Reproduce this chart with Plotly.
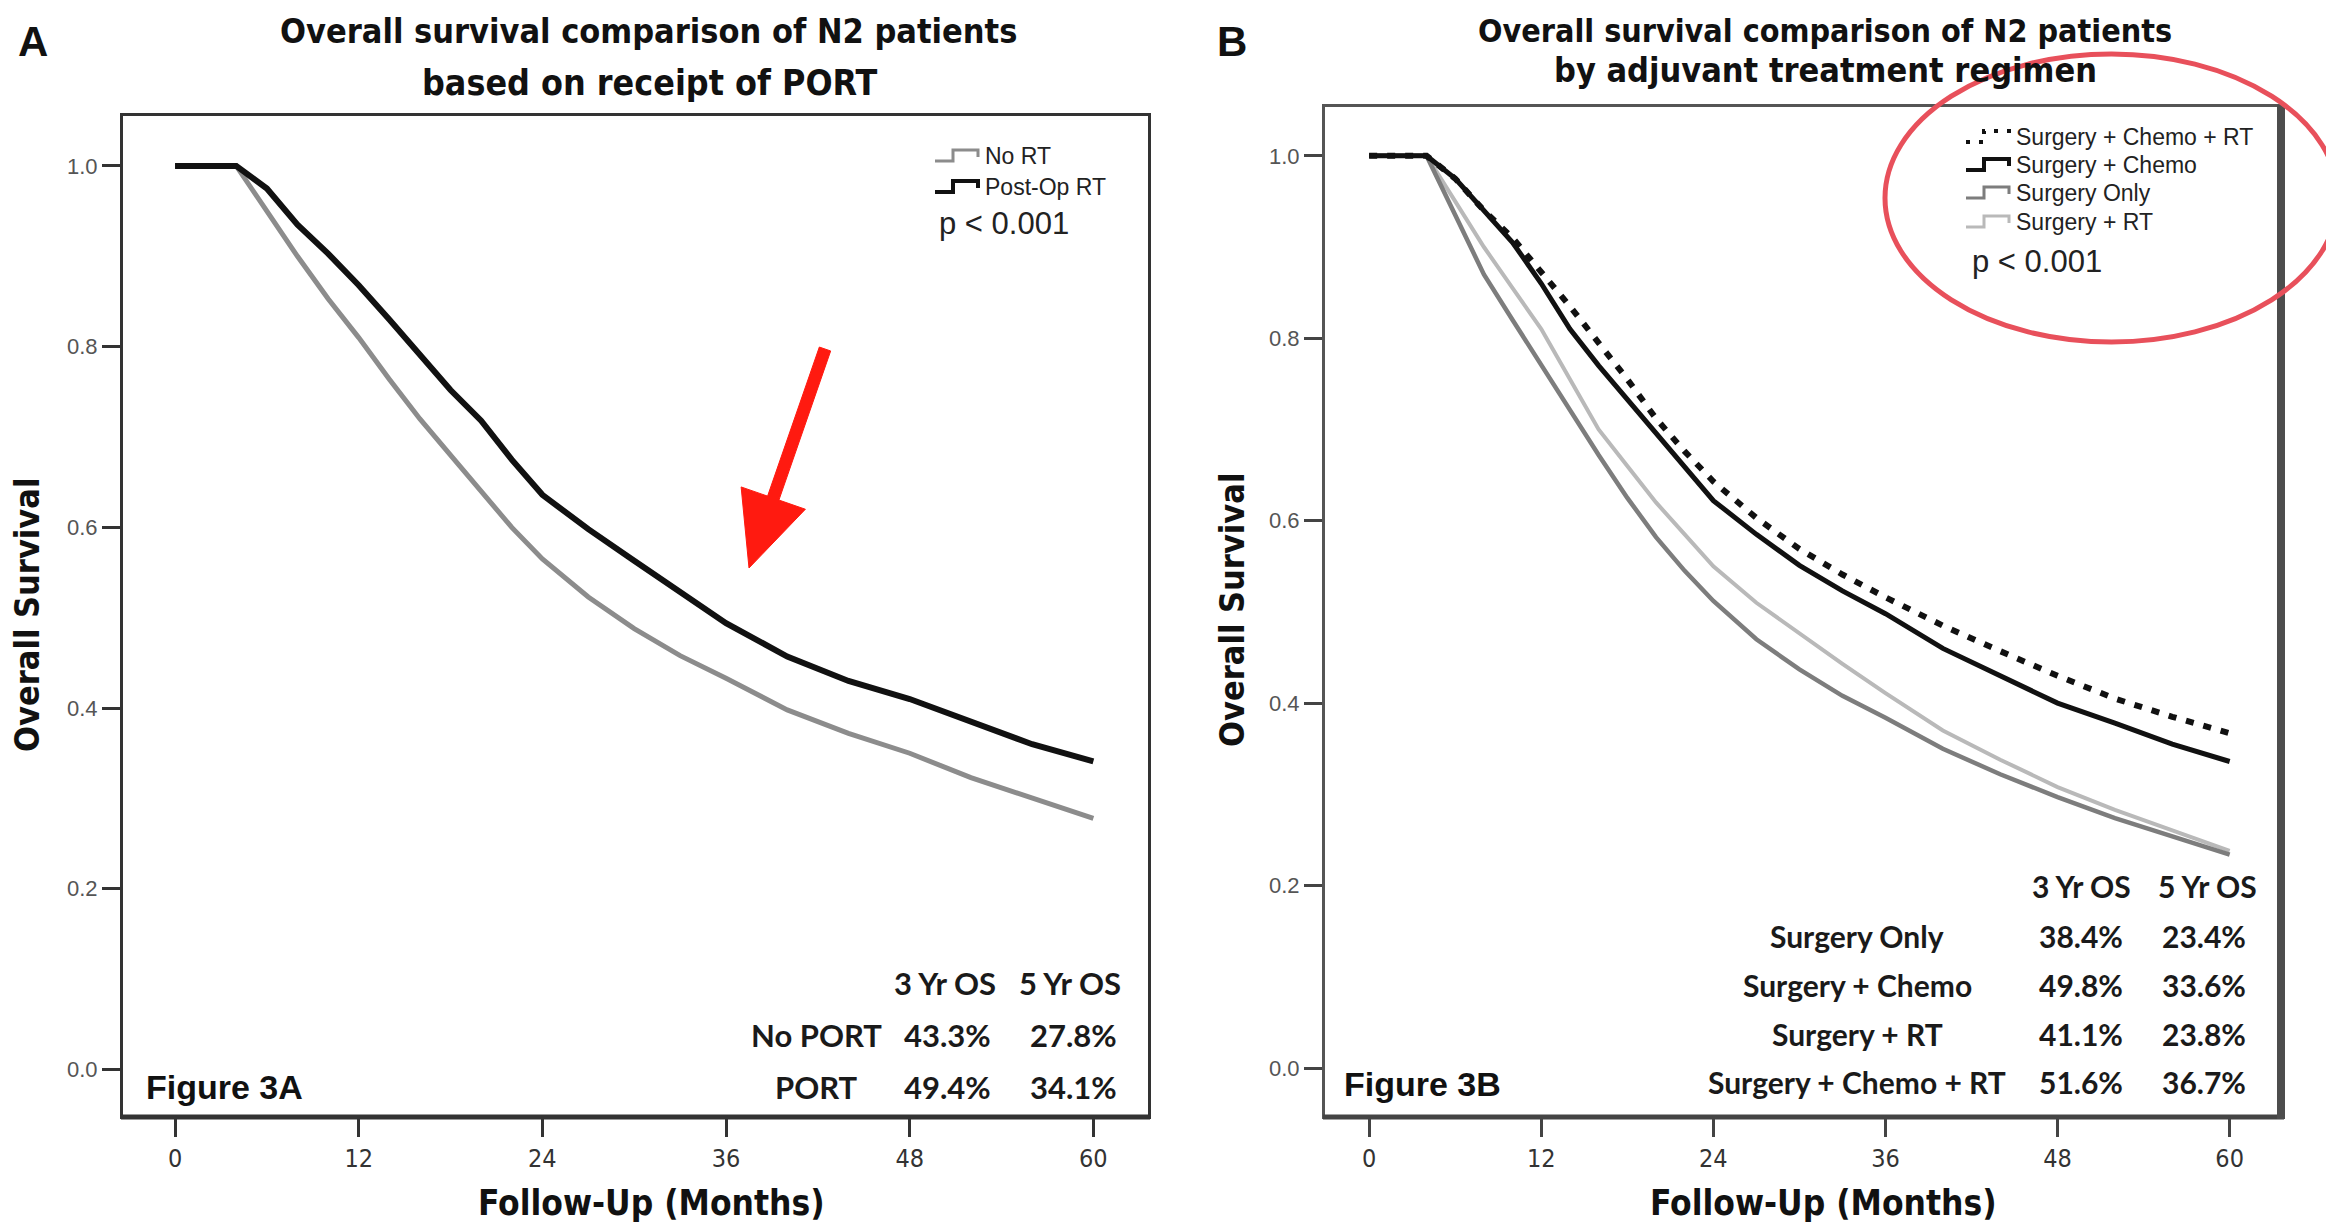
import plotly.graph_objects as go

# ---------------------------------------------------------------------------
# Data: Kaplan-Meier overall survival estimates (fraction alive) by month
# ---------------------------------------------------------------------------
months_a = [0, 4, 6, 8, 10, 12, 14, 16, 18, 20, 22, 24, 27, 30, 33, 36, 40, 44, 48, 52, 56, 60]
no_rt = [1.0, 1.0, 0.95, 0.90, 0.853, 0.81, 0.764, 0.72, 0.68, 0.64, 0.60, 0.565,
         0.523, 0.488, 0.458, 0.433, 0.398, 0.372, 0.35, 0.323, 0.30, 0.278]
post_op_rt = [1.0, 1.0, 0.975, 0.935, 0.903, 0.868, 0.83, 0.79, 0.752, 0.718, 0.675, 0.636,
              0.598, 0.563, 0.528, 0.494, 0.457, 0.43, 0.41, 0.385, 0.36, 0.341]

months_b = [0, 4, 6, 8, 10, 12, 14, 16, 18, 20, 22, 24, 27, 30, 33, 36, 40, 44, 48, 52, 56, 60]
surgery_only = [1.0, 1.0, 0.935, 0.87, 0.82, 0.77, 0.72, 0.672, 0.625, 0.582, 0.545, 0.512,
                0.47, 0.437, 0.408, 0.384, 0.35, 0.322, 0.297, 0.274, 0.254, 0.234]
surgery_rt = [1.0, 1.0, 0.95, 0.90, 0.855, 0.81, 0.755, 0.70, 0.66, 0.62, 0.585, 0.55,
              0.51, 0.476, 0.443, 0.411, 0.37, 0.338, 0.308, 0.283, 0.26, 0.238]
surgery_chemo = [1.0, 1.0, 0.975, 0.94, 0.905, 0.86, 0.81, 0.77, 0.733, 0.695, 0.658, 0.622,
                 0.585, 0.551, 0.523, 0.498, 0.46, 0.43, 0.40, 0.378, 0.355, 0.336]
surgery_chemo_rt = [1.0, 1.0, 0.975, 0.94, 0.91, 0.873, 0.835, 0.795, 0.755, 0.712, 0.676, 0.643,
                    0.603, 0.569, 0.541, 0.516, 0.485, 0.457, 0.43, 0.405, 0.385, 0.367]

x_ticks = [0, 12, 24, 36, 48, 60]
y_ticks = [0.0, 0.2, 0.4, 0.6, 0.8, 1.0]

os_columns = ["3 Yr OS", "5 Yr OS"]
os_months = [36, 60]

panel_a_groups = ["No PORT", "PORT"]
panel_a_legend = ["No RT", "Post-Op RT"]
panel_b_groups = ["Surgery Only", "Surgery + Chemo", "Surgery + RT", "Surgery + Chemo + RT"]
panel_b_legend = ["Surgery + Chemo + RT", "Surgery + Chemo", "Surgery Only", "Surgery + RT"]

# ---------------------------------------------------------------------------
W, H = 2326, 1223
NARROW = "Liberation Sans Narrow, Arial Narrow, DejaVu Sans Condensed, sans-serif"
ARIAL = "Liberation Sans, Arial, sans-serif"
CALIBRI = "Lato, Carlito, Calibri, sans-serif"


def px(x):
    return x / W


def py(y):
    return 1 - y / H


def pct(v):
    return f"{v * 100:.1f}%"


fig = go.Figure()

# Panel A curves
fig.add_trace(go.Scatter(x=months_a, y=no_rt, mode="lines", line=dict(color="#8c8c8c", width=5),
                         xaxis="x", yaxis="y", showlegend=False))
fig.add_trace(go.Scatter(x=months_a, y=post_op_rt, mode="lines", line=dict(color="#111111", width=6),
                         xaxis="x", yaxis="y", showlegend=False))

# Panel B curves
fig.add_trace(go.Scatter(x=months_b, y=surgery_rt, mode="lines", line=dict(color="#b9b9b9", width=4),
                         xaxis="x2", yaxis="y2", showlegend=False))
fig.add_trace(go.Scatter(x=months_b, y=surgery_only, mode="lines", line=dict(color="#7d7d7d", width=4.5),
                         xaxis="x2", yaxis="y2", showlegend=False))
fig.add_trace(go.Scatter(x=months_b, y=surgery_chemo_rt, mode="lines",
                         line=dict(color="#111111", width=6, dash="8px,10px"),
                         xaxis="x2", yaxis="y2", showlegend=False))
fig.add_trace(go.Scatter(x=months_b, y=surgery_chemo, mode="lines", line=dict(color="#111111", width=5),
                         xaxis="x2", yaxis="y2", showlegend=False))

axis_common = dict(showgrid=False, zeroline=False, showline=True, mirror=True, ticks="outside",
                   ticklen=18, tickwidth=3)

# Frame edges (pixels) for each panel
A_LEFT, A_RIGHT, A_TOP, BOTTOM = 123, 1148, 116, 1116
B_LEFT, B_RIGHT, B_TOP = 1325, 2281, 107

fig.update_layout(
    width=W, height=H, margin=dict(l=0, r=0, t=0, b=0),
    paper_bgcolor="white", plot_bgcolor="white",
    xaxis=dict(domain=[px(A_LEFT), px(A_RIGHT)], range=[-3.40, 63.57], tickvals=x_ticks,
               linecolor="#333", linewidth=3, tickcolor="#333",
               tickfont=dict(family=NARROW, size=25, color="#333"), anchor="y", **axis_common),
    yaxis=dict(domain=[py(BOTTOM), py(A_TOP)], range=[-0.0515, 1.0553], tickvals=y_ticks, tickformat=".1f",
               linecolor="#333", linewidth=3, tickcolor="#333",
               tickfont=dict(family=ARIAL, size=22, color="#555"), anchor="x", **axis_common),
    xaxis2=dict(domain=[px(B_LEFT), px(B_RIGHT)], range=[-3.08, 63.58], tickvals=x_ticks,
                linecolor="#555", linewidth=3, tickcolor="#444",
                tickfont=dict(family=NARROW, size=25, color="#333"), anchor="y2", **axis_common),
    yaxis2=dict(domain=[py(BOTTOM), py(B_TOP)], range=[-0.0526, 1.0535], tickvals=y_ticks, tickformat=".1f",
                linecolor="#555", linewidth=3, tickcolor="#444",
                tickfont=dict(family=ARIAL, size=22, color="#555"), anchor="x2", **axis_common),
)

shapes = []
annotations = []

# Heavier bottom edge on panel A and right / bottom edges on panel B
shapes.append(dict(type="line", xref="paper", yref="paper", x0=px(A_LEFT - 2), x1=px(A_RIGHT + 2),
                   y0=py(BOTTOM + 1), y1=py(BOTTOM + 1), line=dict(color="#333", width=5)))
shapes.append(dict(type="line", xref="paper", yref="paper", x0=px(B_LEFT - 2), x1=px(B_RIGHT + 3),
                   y0=py(BOTTOM + 1), y1=py(BOTTOM + 1), line=dict(color="#444", width=5)))
shapes.append(dict(type="line", xref="paper", yref="paper", x0=px(B_RIGHT), x1=px(B_RIGHT),
                   y0=py(B_TOP - 2), y1=py(BOTTOM + 3), line=dict(color="#4d4d4d", width=8)))


def text(x, y, s, size, family, color="#111", bold=False, anchor="center", angle=0):
    annotations.append(dict(xref="paper", yref="paper", x=px(x), y=py(y), text=f"<b>{s}</b>" if bold else s,
                            showarrow=False, xanchor=anchor, yanchor="middle", textangle=angle,
                            font=dict(family=family, size=size, color=color)))


# Panel letters and titles
text(33, 42, "A", 42, ARIAL, bold=True)
text(1232, 42, "B", 42, ARIAL, bold=True)
text(648, 31, "Overall survival comparison of N2 patients", 34, NARROW, bold=True)
text(650, 83, "based on receipt of PORT", 35.5, NARROW, bold=True)
text(1825, 31, "Overall survival comparison of N2 patients", 32, NARROW, bold=True)
text(1825, 70, "by adjuvant treatment regimen", 34, NARROW, bold=True)

# Axis titles
for cx in (651, 1823):
    text(cx, 1203, "Follow-Up (Months)", 35, NARROW, bold=True)
text(27, 615, "Overall Survival", 34, NARROW, bold=True, angle=-90)
text(1232, 610, "Overall Survival", 34, NARROW, bold=True, angle=-90)

# Figure tags
text(144, 1087, "Figure 3A", 34, ARIAL, bold=True, anchor="left")
text(1342, 1084, "Figure 3B", 34, ARIAL, bold=True, anchor="left")

# Survival table, panel A
a_series = [no_rt, post_op_rt]
for j, col in enumerate(os_columns):
    text([945, 1070][j], 983, col, 31, CALIBRI, bold=True, color="#1a1a1a")
for i, grp in enumerate(panel_a_groups):
    ry = [1035, 1087][i]
    text(816, ry, grp, 31, CALIBRI, bold=True, color="#1a1a1a")
    for j, m in enumerate(os_months):
        text([947, 1073][j], ry, pct(a_series[i][months_a.index(m)]), 31, CALIBRI, bold=True, color="#1a1a1a")

# Survival table, panel B
b_series = [surgery_only, surgery_chemo, surgery_rt, surgery_chemo_rt]
for j, col in enumerate(os_columns):
    text([2081, 2207][j], 886, col, 30, CALIBRI, bold=True, color="#1a1a1a")
for i, grp in enumerate(panel_b_groups):
    ry = [936, 985, 1034, 1082][i]
    text(1857, ry, grp, 30, CALIBRI, bold=True, color="#1a1a1a")
    for j, m in enumerate(os_months):
        text([2081, 2204][j], ry, pct(b_series[i][months_b.index(m)]), 30, CALIBRI, bold=True, color="#1a1a1a")


# Step-shaped legend keys
def step_key(x0, yc, color, width, dash=None):
    path = (f"M{px(x0)},{py(yc + 5)} L{px(x0 + 18)},{py(yc + 5)} L{px(x0 + 18)},{py(yc - 6)} "
            f"L{px(x0 + 43)},{py(yc - 6)} L{px(x0 + 43)},{py(yc + 1)}")
    line = dict(color=color, width=width)
    if dash:
        line["dash"] = dash
    shapes.append(dict(type="path", xref="paper", yref="paper", path=path, line=line))


# Legend, panel A
step_key(935, 156, "#8c8c8c", 3)
step_key(935, 187, "#111", 4)
for s, yy in zip(panel_a_legend, [156, 187]):
    text(983, yy, s, 23, ARIAL, color="#222", anchor="left")
text(937, 223, "p &lt; 0.001", 31, ARIAL, color="#222", anchor="left")

# Legend, panel B
b_keys = [("#111", 4, "4px,9px"), ("#111", 4, None), ("#7d7d7d", 3, None), ("#b9b9b9", 3, None)]
for (c, w, d), s, yy in zip(b_keys, panel_b_legend, [137, 165, 193, 222]):
    step_key(1966, yy, c, w, d)
    text(2014, yy, s, 23, ARIAL, color="#222", anchor="left")
text(1970, 262, "p &lt; 0.001", 31, ARIAL, color="#222", anchor="left")

# Red highlight ellipse around the panel B legend
shapes.append(dict(type="circle", xref="paper", yref="paper", x0=px(1885), x1=px(2338), y0=py(342), y1=py(54),
                   line=dict(color="#e8505b", width=5)))

# Red arrow pointing at the gap between the panel A curves
sx, sy = 825, 349
tx, ty = 749, 568
dx, dy = tx - sx, ty - sy
ln = (dx ** 2 + dy ** 2) ** 0.5
ux, uy = dx / ln, dy / ln
nx, ny = -uy, ux
head_len, head_w, shaft_w = 74, 34, 6
bx, by = tx - head_len * ux, ty - head_len * uy
pts = [(sx + shaft_w * nx, sy + shaft_w * ny), (bx + shaft_w * nx, by + shaft_w * ny),
       (bx + head_w * nx, by + head_w * ny), (tx, ty), (bx - head_w * nx, by - head_w * ny),
       (bx - shaft_w * nx, by - shaft_w * ny), (sx - shaft_w * nx, sy - shaft_w * ny)]
arrow_path = "M" + " L".join(f"{px(a)},{py(b)}" for a, b in pts) + " Z"
shapes.append(dict(type="path", xref="paper", yref="paper", path=arrow_path,
                   fillcolor="#ff1a10", line=dict(color="#ff1a10", width=1)))

fig.update_layout(shapes=shapes, annotations=annotations)
fig.write_html("out.html")
